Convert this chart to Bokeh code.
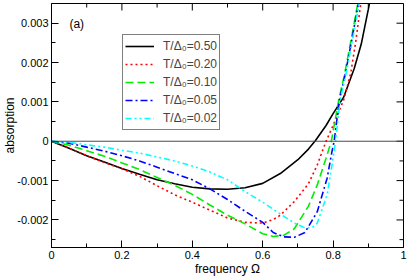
import math
from bokeh.plotting import figure
from bokeh.models import (FixedTicker, Span, Legend, LegendItem,
                          Range1d, ColumnDataSource)
from bokeh.core.properties import value
from bokeh.embed import file_html
from bokeh.resources import INLINE

# ---------------- data ----------------
x_050 = [0, 0.05, 0.1, 0.15, 0.2, 0.25, 0.3, 0.35, 0.4, 0.45, 0.5, 0.55, 0.6,
         0.65, 0.7, 0.73, 0.75, 0.78, 0.8, 0.83, 0.86, 0.88, 0.9, 0.91]
y_050 = [0, -0.00018, -0.00037, -0.00053, -0.00069, -0.00084, -0.00098, -0.00108,
         -0.00117, -0.00121, -0.00122, -0.00118, -0.00107, -0.00082, -0.00047,
         -0.0002, 0.00002, 0.0004, 0.0007, 0.00112, 0.00185, 0.00247, 0.00335, 0.0038]

x_020 = [0, 0.05, 0.1, 0.15, 0.2, 0.25, 0.3, 0.35, 0.4, 0.45, 0.5, 0.55, 0.6,
         0.63, 0.65, 0.69, 0.73, 0.755, 0.78, 0.8, 0.83, 0.85, 0.865, 0.88]
y_020 = [0, -0.00018, -0.00037, -0.00054, -0.0007, -0.00089, -0.00113, -0.00136,
         -0.00155, -0.00175, -0.00195, -0.00206, -0.00208, -0.00199, -0.00188,
         -0.00153, -0.00108, -0.0006, 0.0, 0.0004, 0.00105, 0.00172, 0.00257, 0.0036]

x_010 = [0, 0.05, 0.1, 0.15, 0.2, 0.25, 0.3, 0.35, 0.4, 0.45, 0.5, 0.55, 0.6,
         0.63, 0.66, 0.69, 0.73, 0.755, 0.78, 0.795, 0.816, 0.832, 0.851, 0.87, 0.875]
y_010 = [0, -0.0001, -0.00024, -0.00038, -0.00055, -0.00072, -0.00092, -0.00112,
         -0.00135, -0.00162, -0.00188, -0.0021, -0.00235, -0.00242, -0.00239,
         -0.00222, -0.00165, -0.00111, -0.00043, 0.0, 0.00105, 0.00168, 0.00257,
         0.0035, 0.0038]

x_005 = [0, 0.05, 0.1, 0.15, 0.2, 0.25, 0.3, 0.35, 0.4, 0.45, 0.5, 0.55, 0.6,
         0.63, 0.66, 0.69, 0.72, 0.755, 0.783, 0.797, 0.803, 0.818, 0.834, 0.853,
         0.872, 0.877]
y_005 = [0, -0.00005, -0.00015, -0.00025, -0.00037, -0.0005, -0.00066, -0.00082,
         -0.00098, -0.00121, -0.00148, -0.00178, -0.00206, -0.00232, -0.00243,
         -0.00244, -0.00232, -0.00179, -0.00094, -0.00025, 0.0, 0.00105, 0.00168,
         0.00257, 0.0035, 0.0038]

x_002 = [0, 0.05, 0.1, 0.15, 0.2, 0.25, 0.3, 0.35, 0.4, 0.45, 0.5, 0.55, 0.6,
         0.65, 0.69, 0.72, 0.74, 0.755, 0.783, 0.797, 0.807, 0.82, 0.836, 0.855,
         0.874, 0.879]
y_002 = [0, -0.00003, -0.00009, -0.00015, -0.00023, -0.0003, -0.0004, -0.0005,
         -0.00063, -0.00078, -0.00098, -0.00128, -0.00155, -0.00185, -0.00208,
         -0.0022, -0.0022, -0.00208, -0.00136, -0.0006, 0.0, 0.00105, 0.00168,
         0.00257, 0.0035, 0.0038]

series_labels = ["T/Δ₀=0.50", "T/Δ₀=0.20", "T/Δ₀=0.10", "T/Δ₀=0.05", "T/Δ₀=0.02"]

x_ticks = [0, 0.2, 0.4, 0.6, 0.8, 1.0]
x_tick_labels = ["0", "0.2", "0.4", "0.6", "0.8", "1"]
x_minor = [0.1, 0.3, 0.5, 0.7, 0.9]
y_ticks = [-0.002, -0.001, 0.0, 0.001, 0.002, 0.003]
y_tick_labels = ["-0.002", "-0.001", "0", "0.001", "0.002", "0.003"]
y_minor = [-0.0025, -0.0015, -0.0005, 0.0005, 0.0015, 0.0025]

x_label = "frequency Ω"
y_label = "absorption"
panel_label = "(a)"

# ---------------- styling ----------------
FONT = "Liberation Sans"
colors = ["black", "#ff0000", "#00ee00", "#0000ff", "#00ffff"]
dashes = ["solid", "2 3", "8 4", "7 3 2 3", "6 3 2 3 2 3"]
widths = [1.6, 1.6, 1.6, 1.6, 1.6]
X0, X1 = 0, 1
Y0, Y1 = -0.0027, 0.0035
MAJ, MIN = 7, 4

p = figure(width=407, height=278, x_range=Range1d(X0, X1),
           y_range=Range1d(Y0, Y1),
           output_backend="svg", toolbar_location=None,
           min_border_left=51, min_border_right=4, min_border_top=3,
           min_border_bottom=30)
p.grid.visible = False
p.outline_line_color = "black"
p.outline_line_width = 1
p.background_fill_color = "white"
p.border_fill_color = "white"

p.xaxis.ticker = FixedTicker(ticks=x_ticks, minor_ticks=x_minor)
p.yaxis.ticker = FixedTicker(ticks=y_ticks, minor_ticks=y_minor)
p.xaxis.major_label_overrides = dict(zip(x_ticks, x_tick_labels))
p.yaxis.major_label_overrides = dict(zip(y_ticks, y_tick_labels))
p.xaxis.axis_label = x_label
p.yaxis.axis_label = y_label

for ax in [p.xaxis[0], p.yaxis[0]]:
    ax.axis_line_color = "black"
    ax.major_tick_in = MAJ
    ax.major_tick_out = 0
    ax.minor_tick_in = MIN
    ax.minor_tick_out = 0
    ax.major_tick_line_color = "black"
    ax.minor_tick_line_color = "black"
    ax.major_label_text_font = FONT
    ax.major_label_text_font_size = "11px"
    ax.major_label_text_color = "black"
    ax.axis_label_text_font = FONT
    ax.axis_label_text_font_size = "12px"
    ax.axis_label_text_font_style = "normal"
    ax.axis_label_text_color = "black"
p.xaxis.major_label_standoff = 3
p.xaxis.axis_label_standoff = 0
p.yaxis.major_label_standoff = 3
p.yaxis.axis_label_standoff = -3

# mirrored inward ticks on the top and right edges
p.ray(x=x_ticks, y=[Y1] * len(x_ticks), length=MAJ, length_units="screen",
      angle=-math.pi / 2, line_color="black", line_width=1)
p.ray(x=x_minor, y=[Y1] * len(x_minor), length=MIN, length_units="screen",
      angle=-math.pi / 2, line_color="black", line_width=1)
p.ray(x=[X1] * len(y_ticks), y=y_ticks, length=MAJ, length_units="screen",
      angle=math.pi, line_color="black", line_width=1)
p.ray(x=[X1] * len(y_minor), y=y_minor, length=MIN, length_units="screen",
      angle=math.pi, line_color="black", line_width=1)

p.add_layout(Span(location=0, dimension="width", line_color="#4a4a4a",
                  line_width=1))

xs = [x_050, x_020, x_010, x_005, x_002]
ys = [y_050, y_020, y_010, y_005, y_002]
items = []
for xv, yv, lab, c, d, w in zip(xs, ys, series_labels, colors, dashes, widths):
    r = p.line(xv, yv, line_color=c, line_dash=d, line_width=w)
    items.append(LegendItem(label=lab, renderers=[r]))

legend = Legend(items=items, location=(71, 117), margin=0, padding=2,
                spacing=0, label_height=18, glyph_height=18, glyph_width=29,
                label_standoff=9, label_text_font=FONT,
                label_text_font_size="12px", border_line_color="black",
                border_line_width=1, background_fill_alpha=1,
                background_fill_color="white")
p.add_layout(legend)

src = ColumnDataSource(dict(x=[0.051], y=[0.00298], t=[panel_label]))
p.text(x="x", y="y", text="t", source=src, text_font=value(FONT),
       text_font_size="12px", text_baseline="middle", text_align="left",
       text_color="black")

open("out.html", "w").write(file_html(p, INLINE))
